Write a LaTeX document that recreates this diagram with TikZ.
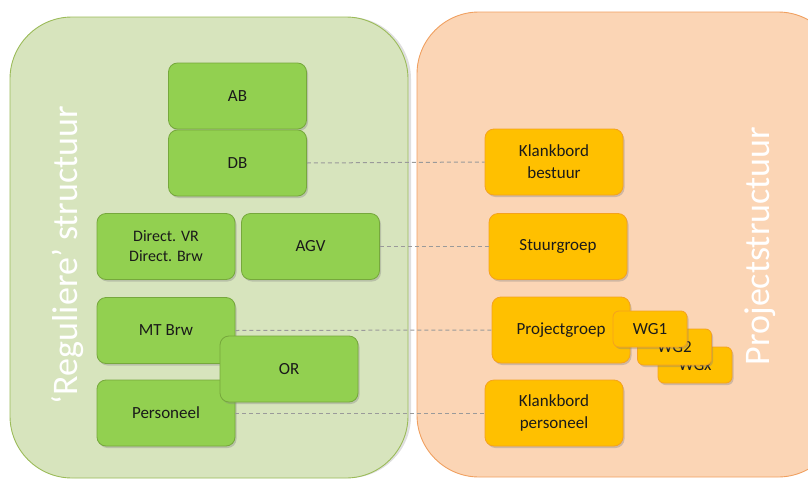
\documentclass[tikz,border=0pt]{standalone}
\usepackage{fontspec}
\setmainfont{Carlito}
\usetikzlibrary{shadows}
\definecolor{paneelgroen}{HTML}{D7E4BD}
\definecolor{randgroen}{HTML}{9BBB59}
\definecolor{vakgroen}{HTML}{92D050}
\definecolor{vakrandgroen}{HTML}{76A83C}
\definecolor{paneeloranje}{HTML}{FBD5B5}
\definecolor{randoranje}{HTML}{F0A060}
\definecolor{vakoranje}{HTML}{FFC000}
\definecolor{vakrandoranje}{HTML}{F5A21E}
\definecolor{tekst}{HTML}{1A1A1A}
\definecolor{stippelgrijs}{HTML}{9A9A9A}
\tikzset{
  vak/.style={rounded corners=9pt, line width=0.8pt, align=center, text=tekst,
    font=\fontsize{17}{22}\selectfont, minimum width=138pt, minimum height=66pt,
    inner sep=2pt, drop shadow={shadow xshift=1.5pt, shadow yshift=-2pt, opacity=0.35}},
  groenvak/.style={vak, fill=vakgroen, draw=vakrandgroen},
  oranjevak/.style={vak, fill=vakoranje, draw=vakrandoranje},
  wgvak/.style={oranjevak, minimum width=74pt, minimum height=36pt, rounded corners=6pt},
  stippel/.style={dashed, dash pattern=on 4pt off 3pt, stippelgrijs, line width=1pt},
  paneeltekst/.style={rotate=90, text=white, font=\fontsize{36}{40}\selectfont},
}
\begin{document}
\begin{tikzpicture}[x=1pt, y=-1pt, line join=round]
			\useasboundingbox (0,0) rectangle (808,479);
			\clip (0,0) rectangle (808,479);
			% panelen
			\draw[fill=paneelgroen, draw=randgroen, line width=0.9pt, rounded corners=62pt,
			  drop shadow={shadow xshift=3pt, shadow yshift=0pt, opacity=0.25}] (10,17) rectangle (408,478);
			\draw[fill=paneeloranje, draw=randoranje, line width=0.9pt, rounded corners=62pt] (417,12) rectangle (840,477);
			\node[paneeltekst] (regulier) at (68,255) {‘Reguliere’ structuur};
			\node[paneeltekst] (project) at (760,246) {Projectstructuur};
			% reguliere structuur
			\node[groenvak] (AB) at (237.5,96) {AB};
			\node[groenvak] (DB) at (237.5,163) {DB};
			\node[groenvak, font=\fontsize{16}{20}\selectfont] (DIR) at (166,246.5) {Direct. VR\\Direct. Brw};
			\node[groenvak] (AGV) at (310.5,246.5) {AGV};
			\node[groenvak] (MT) at (166,330.5) {MT Brw};
			\node[groenvak] (PERS) at (166,413) {Personeel};
			\node[groenvak] (OR) at (289,369) {OR};
			% projectstructuur
			\node[oranjevak] (KBB) at (554,162) {Klankbord\\bestuur};
			\node[oranjevak] (SG) at (558,246.5) {Stuurgroep};
			\node[oranjevak] (PG) at (561,330) {Projectgroep};
			\node[oranjevak] (KBP) at (554,413) {Klankbord\\personeel};
			\node[wgvak] (WGx) at (695,365) {WGx};
			\node[wgvak] (WG2) at (674.5,347) {WG2};
			\node[wgvak] (WG1) at (650,329) {WG1};
			% koppelingen
			\foreach \a/\b in {DB/KBB,AGV/SG,MT/PG,PERS/KBP} \draw[stippel] (\a.east) -- (\b.west);
\end{tikzpicture}
\end{document}
